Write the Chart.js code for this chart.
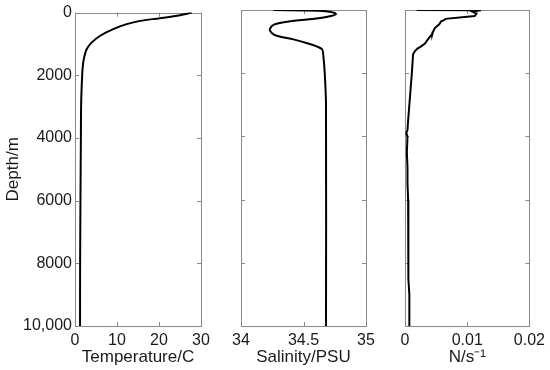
<!DOCTYPE html>
<html>
<head>
<meta charset="utf-8">
<script src="https://cdn.jsdelivr.net/npm/chart.js@4"></script>
<style>
  body { margin: 0; background: #fff; }
  #wrap { position: relative; width: 550px; height: 370px; }
  #wrap canvas { position: absolute; left: 0; top: 0; }
</style>
</head>
<body>
<div id="wrap">
  <canvas id="sicaklik" width="550" height="370"></canvas>
  <canvas id="tuzluluk" width="550" height="370"></canvas>
  <canvas id="frekans" width="550" height="370"></canvas>
</div>
<script>
// depth profiles
const tempDepth = [0, 84, 179, 264, 369, 527, 738, 949, 1160, 1477, 1793, 2500, 3000, 4000, 6000, 8000, 10000];
const tempValue = [27.8, 25.0, 20.2, 15.5, 12.3, 9.1, 6.0, 4.0, 2.8, 2.1, 1.8, 1.55, 1.45, 1.4, 1.3, 1.22, 1.2];

const salDepth = [0, 20, 60, 130, 190, 260, 370, 470, 630, 790, 930, 1050, 1160, 1250, 1500, 2000, 3000, 10000];
const salValue = [34.26, 34.62, 34.72, 34.76, 34.72, 34.62, 34.37, 34.26, 34.23, 34.27, 34.42, 34.53, 34.61, 34.65, 34.66, 34.67, 34.68, 34.68];

const nDepth = [0, 10, 50, 110, 190, 280, 330, 360, 450, 570, 690, 760, 850, 950, 1060, 1150, 1220, 1300, 1400, 1700, 2000, 2500, 3000, 3500, 3800, 3900, 4000, 4500, 5000, 5500, 6000, 6500, 7000, 7500, 8000, 8500, 9000, 9500, 10000];
const nValue = [0.0019, 0.0122, 0.0108, 0.0115, 0.0112, 0.0065, 0.0062, 0.0058, 0.0055, 0.0048, 0.0045, 0.0044, 0.0040, 0.0036, 0.0032, 0.0026, 0.0020, 0.0016, 0.0013, 0.0012, 0.0011, 0.0009, 0.0007, 0.0005, 0.0004, 0.0002, 0.0004, 0.0003, 0.0004, 0.0004, 0.0005, 0.0005, 0.0005, 0.0006, 0.0005, 0.0006, 0.0007, 0.0007, 0.0007];

const depthTickValues = [0, 2000, 4000, 6000, 8000, 10000];
const depthTicks = ['0', '2000', '4000', '6000', '8000', '10,000'];
const tempTicks = ['0', '10', '20', '30'];
const salTicks = ['34', '34.5', '35'];
const nTicks = ['0', '0.01', '0.02'];

Chart.defaults.font.family = "'Liberation Sans', Arial, sans-serif";
Chart.defaults.font.size = 16;
Chart.defaults.color = '#1a1a1a';

// gray box with inward ticks on every side (matlab look)
const kutu = {
  id: 'kutu',
  beforeDatasetsDraw(chart) {
    var ctx = chart.ctx, a = chart.chartArea;
    var xs = chart.scales.x, ys = chart.scales.y;
    ctx.save();
    ctx.strokeStyle = '#8a8a8a';
    ctx.lineWidth = 1;
    ctx.beginPath();
    xs.ticks.forEach(t => {
      var px = Math.round(xs.getPixelForValue(t.value)) + 0.5;
      ctx.moveTo(px, a.bottom); ctx.lineTo(px, a.bottom - 4);
      ctx.moveTo(px, a.top); ctx.lineTo(px, a.top + 4);
    });
    ys.ticks.forEach(t => {
      var py = Math.round(ys.getPixelForValue(t.value)) + 0.5;
      ctx.moveTo(a.left, py); ctx.lineTo(a.left + 4, py);
      ctx.moveTo(a.right, py); ctx.lineTo(a.right - 4, py);
    });
    ctx.stroke();
    ctx.strokeRect(Math.round(a.left) + 0.5, Math.round(a.top) + 0.5, Math.round(a.right - a.left), Math.round(a.bottom - a.top));
    ctx.restore();
  }
};

function profil(id, xs, ds, xmin, xmax, step, xLabels, xTitle, axisW, padRight, first, tension) {
  var pts = xs.map((v, i) => ({x: v, y: ds[i]}));
  return new Chart(document.getElementById(id), {
    type: 'scatter',
    data: {
      datasets: [{
        data: pts,
        showLine: true,
        borderColor: '#000',
        borderWidth: 2,
        pointRadius: 0,
        tension: tension
      }]
    },
    options: {
      responsive: false,
      animation: false,
      layout: { padding: { left: 0, top: 10, right: padRight, bottom: 0 } },
      plugins: { legend: { display: false }, tooltip: { enabled: false } },
      scales: {
        x: {
          type: 'linear',
          min: xmin, max: xmax,
          grid: { display: false, drawTicks: false },
          border: { display: false },
          ticks: {
            stepSize: step,
            padding: 5,
            maxRotation: 0,
            callback: (v, i) => xLabels[i]
          },
          title: { display: true, text: xTitle, font: { size: 17 }, padding: { top: 0, bottom: 2 } },
          afterFit: s => { s.height = 44; }
        },
        y: {
          type: 'linear',
          min: 0, max: 10000,
          reverse: true,
          grid: { display: false, drawTicks: false },
          border: { display: false },
          ticks: {
            display: first,
            stepSize: 2000,
            padding: 3,
            callback: v => depthTicks[depthTickValues.indexOf(v)]
          },
          title: { display: first, text: 'Depth/m', font: { size: 17 }, padding: { top: 3, bottom: 0 } },
          afterFit: s => { s.width = axisW; }
        }
      }
    },
    plugins: [kutu]
  });
}

var sicaklik_chart = profil('sicaklik', tempValue, tempDepth, 0, 30, 10, tempTicks, 'Temperature/C', 75, 349, true, 0.3);
var tuzluluk_chart = profil('tuzluluk', salValue, salDepth, 34, 35, 0.5, salTicks, 'Salinity/PSU', 241, 184, false, 0.3);
var frekans_chart = profil('frekans', nValue, nDepth, 0, 0.02, 0.01, nTicks, 'N/s\u207B\u00B9', 405, 20, false, 0);
</script>
</body>
</html>
